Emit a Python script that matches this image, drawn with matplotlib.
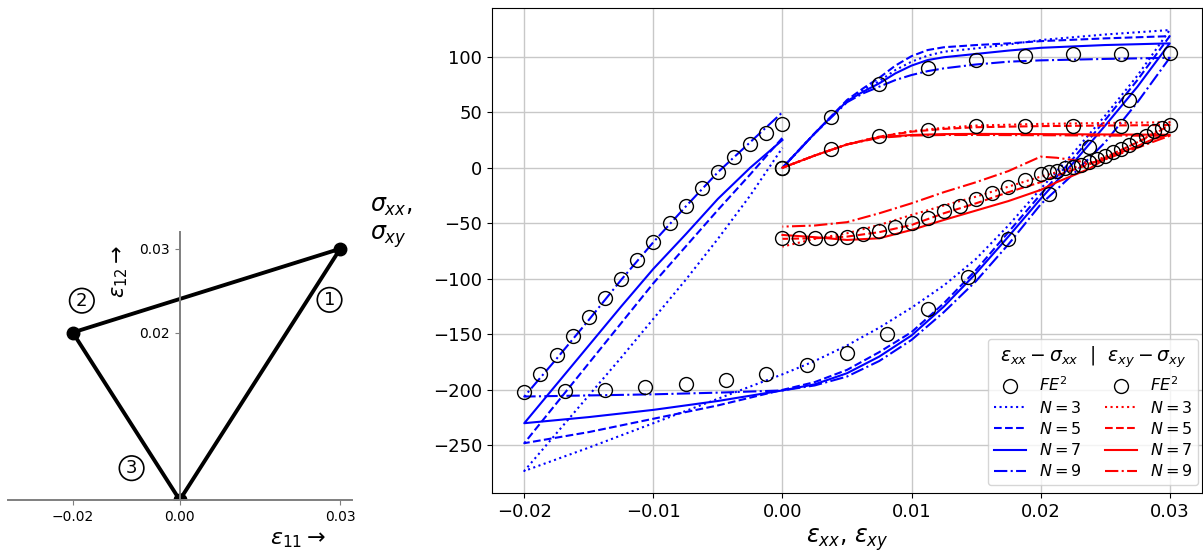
import matplotlib
matplotlib.use("Agg")
import matplotlib.pyplot as plt
from matplotlib.lines import Line2D

# ---------------------------------------------------------------
# Prescribed strain path (eps11, eps12): 0 -> (1) -> (2) -> (3) -> 0
# ---------------------------------------------------------------
path_eps11 = [0.0, 0.03, -0.02, 0.0]
path_eps12 = [0.0, 0.03, 0.02, 0.0]
path_xticks = [-0.02, 0.0, 0.03]
path_yticks = [0.02, 0.03]

# ---------------------------------------------------------------
# FE^2 reference responses
# ---------------------------------------------------------------
fe2_xx_strain = ([0.0, 0.00375, 0.0075, 0.01125, 0.015, 0.01875, 0.0225, 0.02625, 0.03]
                 + [0.026875, 0.02375, 0.020625, 0.0175, 0.014375, 0.01125, 0.008125, 0.005,
                    0.001875, -0.00125, -0.004375, -0.0075, -0.010625, -0.01375, -0.016875, -0.02]
                 + [-0.01875, -0.0175, -0.01625, -0.015, -0.01375, -0.0125, -0.01125, -0.01,
                    -0.00875, -0.0075, -0.00625, -0.005, -0.00375, -0.0025, -0.00125, 0.0])
fe2_xx_stress = ([0.0, 46.0, 75.4, 89.8, 97.3, 100.3, 102.5, 102.8, 103.4]
                 + [61.2, 18.6, -23.5, -64.0, -98.7, -127.6, -150.0, -166.5,
                    -177.8, -186.0, -190.7, -195.0, -197.3, -199.7, -201.0, -201.9]
                 + [-185.3, -168.2, -151.6, -134.2, -117.6, -100.5, -83.5, -66.6,
                    -49.4, -34.1, -18.4, -4.0, 9.6, 21.6, 31.2, 39.6])

fe2_xy_strain = ([0.0, 0.00375, 0.0075, 0.01125, 0.015, 0.01875, 0.0225, 0.02625, 0.03]
                 + [0.029375, 0.02875, 0.028125, 0.0275, 0.026875, 0.02625, 0.025625, 0.025,
                    0.024375, 0.02375, 0.023125, 0.0225, 0.021875, 0.02125, 0.020625, 0.02]
                 + [0.01875, 0.0175, 0.01625, 0.015, 0.01375, 0.0125, 0.01125, 0.01,
                    0.00875, 0.0075, 0.00625, 0.005, 0.00375, 0.0025, 0.00125, 0.0])
fe2_xy_stress = ([0.0, 17.0, 28.2, 34.2, 37.2, 37.2, 37.8, 37.8, 38.1]
                 + [35.7, 32.7, 28.8, 24.6, 20.7, 17.0, 14.1, 11.0,
                    7.8, 5.1, 2.6, 1.1, -0.4, -2.5, -4.0, -5.5]
                 + [-10.9, -17.5, -22.9, -28.3, -34.1, -38.9, -44.9, -49.4,
                    -53.6, -56.6, -59.6, -62.1, -63.0, -63.5, -63.5, -63.0])

# ---------------------------------------------------------------
# Reduced-model responses for N = 3, 5, 7, 9
# ---------------------------------------------------------------
rom_xx_strain = ([0.0, 0.0025, 0.005, 0.00625, 0.0075, 0.00875, 0.01, 0.01125, 0.0125,
                  0.015, 0.0175, 0.02, 0.025, 0.03]
                 + [0.0275, 0.025, 0.0225, 0.02, 0.0175, 0.015, 0.0125, 0.01, 0.0075, 0.005,
                    0.0025, 0.0, -0.005, -0.01, -0.015, -0.02]
                 + [-0.0175, -0.015, -0.0125, -0.01, -0.0075, -0.005, -0.0025, 0.0])
sxx_n3 = ([0, 31, 60, 70, 78, 88, 95.5, 101, 104.5, 107.5, 111, 115, 120, 124]
          + [83, 47, 13, -19, -52, -82, -106, -126, -144, -160, -174, -186, -208, -230, -252, -273]
          + [-239, -205, -171, -136, -101, -64, -25, 18])
sxx_n5 = ([0, 31, 61, 71.5, 81, 92, 100.5, 106, 108.5, 110.5, 112, 114, 116.5, 118.5]
          + [79, 43, 8, -24, -58, -92, -122, -148, -166, -182, -193, -200, -214, -226, -238, -248]
          + [-212, -176, -140, -104, -71, -38, -6, 27])
sxx_n7 = ([0, 31, 60, 68.5, 76, 85, 92, 97, 99.5, 102.5, 105.5, 108, 110.5, 112]
          + [73, 38, 4, -28, -62, -95, -125, -151, -170, -185, -195, -200.5, -210, -218, -224.5, -230]
          + [-195, -160, -125, -91, -60, -28, 0, 25])
sxx_n9 = ([0, 31, 59, 67, 73, 79, 83.5, 87, 89.5, 93, 95.5, 96.7, 98, 99]
          + [59, 23, -6, -33, -69, -102, -130, -155, -174, -188, -196, -200.5, -202.5, -204, -205, -206]
          + [-172, -137, -101, -67, -35, -4, 23, 50])

rom_xy_strain = ([0.0, 0.0025, 0.005, 0.0075, 0.01, 0.0125, 0.015, 0.02, 0.025, 0.03]
                 + [0.02875, 0.0275, 0.02625, 0.025, 0.02375, 0.0225, 0.02125, 0.02]
                 + [0.0175, 0.015, 0.0125, 0.01, 0.0075, 0.005, 0.0025, 0.0])
sxy_n3 = ([0, 11, 21, 28, 33, 36, 38, 39.5, 40.3, 41]
          + [31, 23, 16, 10, 4, 0, -4, -8]
          + [-17, -26, -34, -42.5, -51.5, -59, -64, -71])
sxy_n5 = ([0, 11, 21, 28, 32.5, 35, 36.5, 37.5, 38, 38.5]
          + [30, 23, 16, 9, 3, -2, -7, -13]
          + [-22, -32, -41, -51.5, -58, -62, -63.5, -64])
sxy_n7 = ([0, 11, 21, 27.5, 29.5, 30.3, 30.5, 30.3, 30, 29.7]
          + [26, 19.5, 14, 8, -1, -7, -13, -20]
          + [-30, -38.5, -47, -56, -63.5, -65, -62.5, -60.5])
sxy_n9 = ([0, 11, 21, 27, 29, 29.5, 29.5, 29.3, 29, 28.8]
          + [23.5, 18, 13, 7.5, 4, 7, 9, 10]
          + [-3, -13, -22, -32, -41, -49, -52, -53])

n_labels = [r"$N=3$", r"$N=5$", r"$N=7$", r"$N=9$"]
n_styles = [":", "--", "-", "-."]

fig = plt.figure(figsize=(12.03, 5.53), dpi=100)

# ---------------------------------------------------------------
# Left: strain path in the (eps11, eps12) plane
# ---------------------------------------------------------------
ax0 = fig.add_axes([8 / 1203, 53 / 553, 344 / 1203, 268 / 553])
ax0.plot(path_eps11, path_eps12, color="black", lw=2.8, marker="o", ms=9)
ax0.set_xlim(-0.0321, 0.0322)
ax0.set_ylim(0.0, 0.032)
ax0.spines["left"].set_position(("data", 0.0))
ax0.spines["bottom"].set_position(("data", 0.0))
for side in ("top", "right"):
    ax0.spines[side].set_visible(False)
for side in ("left", "bottom"):
    ax0.spines[side].set_color("#7f7f7f")
    ax0.spines[side].set_linewidth(1.4)
ax0.set_xticks(path_xticks)
ax0.set_xticklabels(["\u22120.02", "0.00", "0.03"])
ax0.set_yticks(path_yticks)
ax0.set_yticklabels(["0.02", "0.03"])
ax0.tick_params(colors="#7f7f7f", labelcolor="black", labelsize=10)

circ = dict(boxstyle="circle,pad=0.18", fc="none", ec="black", lw=1.2)
ax0.text(0.0280, 0.0239, "1", ha="center", va="center", fontsize=13, bbox=circ)
ax0.text(-0.0183, 0.0238, "2", ha="center", va="center", fontsize=13, bbox=circ)
ax0.text(-0.0090, 0.0038, "3", ha="center", va="center", fontsize=13, bbox=circ)
ax0.text(-0.0112, 0.0273, r"$\varepsilon_{12}\rightarrow$", rotation=90,
         ha="center", va="center", fontsize=15)
fig.text(298 / 1203, 1 - 540 / 553, r"$\varepsilon_{11}\rightarrow$",
         ha="center", va="center", fontsize=16)
fig.text(370 / 1203, 1 - 222 / 553, "$\\sigma_{xx}$,\n$\\sigma_{xy}$",
         ha="left", va="center", fontsize=17, linespacing=1.1)

# ---------------------------------------------------------------
# Right: stress-strain responses
# ---------------------------------------------------------------
ax = fig.add_axes([492 / 1203, 60 / 553, 710 / 1203, 485 / 553])
ax.grid(True, color="#c8c8c8", lw=1.0)
ax.set_axisbelow(True)

xx_curves = [sxx_n3, sxx_n5, sxx_n7, sxx_n9]
xy_curves = [sxy_n3, sxy_n5, sxy_n7, sxy_n9]
for vals, ls in zip(xx_curves, n_styles):
    ax.plot(rom_xx_strain, vals, color="blue", ls=ls, lw=1.5)
for vals, ls in zip(xy_curves, n_styles):
    ax.plot(rom_xy_strain, vals, color="red", ls=ls, lw=1.5)

ax.plot(fe2_xx_strain, fe2_xx_stress, ls="none", marker="o", ms=10,
        mfc="none", mec="black", mew=1.0)
ax.plot(fe2_xy_strain, fe2_xy_stress, ls="none", marker="o", ms=10,
        mfc="none", mec="black", mew=1.0)

ax.tick_params(labelsize=13)
ax.set_xlabel(r"$\varepsilon_{xx}$, $\varepsilon_{xy}$", fontsize=17)

fe2_handle = Line2D([], [], ls="none", marker="o", ms=10, mfc="none", mec="black", mew=1.0)
handles = [fe2_handle] + [Line2D([], [], color="blue", ls=ls, lw=1.5) for ls in n_styles]
handles += [fe2_handle] + [Line2D([], [], color="red", ls=ls, lw=1.5) for ls in n_styles]
labels = [r"$FE^2$"] + n_labels + [r"$FE^2$"] + n_labels
ax.legend(handles, labels, ncol=2, loc="lower right",
          bbox_to_anchor=(1 - 4 / 710, 8 / 485), borderaxespad=0.0,
          fontsize=11.5, borderpad=0.35,
          title=r"$\varepsilon_{xx}-\sigma_{xx}$  |  $\varepsilon_{xy}-\sigma_{xy}$",
          title_fontsize=13.5, columnspacing=1.5, handlelength=2.0,
          labelspacing=0.33)

fig.savefig("out.png", dpi=100)
